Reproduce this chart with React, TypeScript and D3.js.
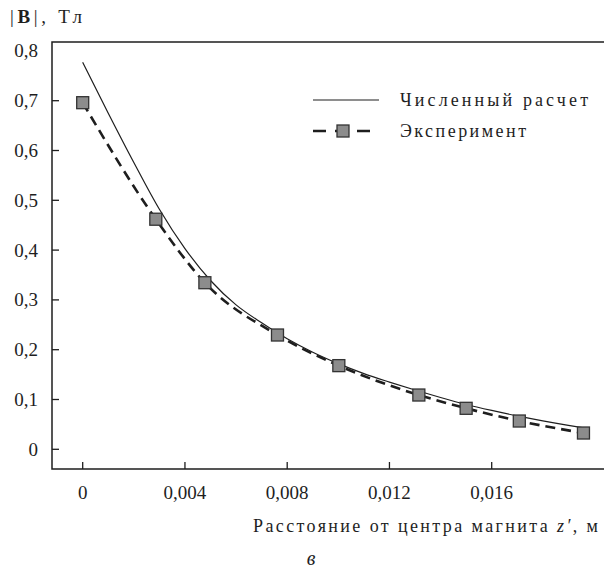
import React from "react";
import * as d3 from "d3";

const calcX = [0, 0.001, 0.002, 0.003, 0.004, 0.005, 0.006, 0.007, 0.008, 0.009, 0.01, 0.011, 0.012, 0.013, 0.014, 0.015, 0.016, 0.017, 0.018, 0.019, 0.0196];
const calcB = [0.777, 0.675, 0.576, 0.482, 0.403, 0.339, 0.29, 0.254, 0.222, 0.195, 0.172, 0.152, 0.135, 0.119, 0.104, 0.09, 0.078, 0.067, 0.057, 0.048, 0.043];

const expX = [0, 0.00286, 0.00478, 0.00762, 0.01002, 0.01315, 0.015, 0.01708, 0.01959];
const expB = [0.696, 0.462, 0.3345, 0.2295, 0.168, 0.109, 0.0823, 0.0568, 0.0327];

const yTicks = [0, 0.1, 0.2, 0.3, 0.4, 0.5, 0.6, 0.7];
const yLabels = [0, 0.1, 0.2, 0.3, 0.4, 0.5, 0.6, 0.7, 0.8];
const xTicks = [0, 0.004, 0.008, 0.012, 0.016];

const legendLabels = ["Численный расчет", "Эксперимент"];
const xTitle = "Расстояние от центра магнита ";
const panelLabel = "в";

const FONT = "'Liberation Serif', 'DejaVu Serif', serif";
const INK = "#1e1e1e";

export default function App() {
  const W = 604, H = 571;
  const left = 52, top = 42, right = 604, bottom = 469;
  const x = d3.scaleLinear().domain([0, 0.016]).range([82.7, 491.7]);
  const y = d3.scaleLinear().domain([0, 0.7]).range([449.3, 100.7]);

  const calcPts: [number, number][] = calcX.map((v, i) => [x(v), y(calcB[i])]);
  const expPts: [number, number][] = expX.map((v, i) => [x(v), y(expB[i])]);
  const solid = d3.line().curve(d3.curveMonotoneX)(calcPts) || "";
  const dashed = d3.line().curve(d3.curveMonotoneX)(expPts) || "";

  const fmt = (v: number) => (v === 0 ? "0" : String(+v.toFixed(3)).replace(".", ","));
  const ms = 12;

  return (
    <svg width={W} height={H} style={{ position: "absolute", left: 0, top: 0, background: "#fff" }} fontFamily={FONT}>
      <rect x={0} y={0} width={W} height={H} fill="#fff" />
      {/* frame */}
      <path d={`M${right},${top}H${left}V${bottom}H${right}`} fill="none" stroke={INK} strokeWidth={1.5} />
      {/* y ticks */}
      {yTicks.map((t) => (
        <line key={"yt" + t} x1={left} x2={left + 7} y1={y(t)} y2={y(t)} stroke={INK} strokeWidth={1.3} />
      ))}
      {yLabels.map((t) => (
        <text key={"yl" + t} x={38} y={y(t) + 6.5} textAnchor="end" fontSize={19} fill={INK}>
          {fmt(t)}
        </text>
      ))}
      {/* x ticks */}
      {xTicks.map((t) => (
        <g key={"xt" + t}>
          <line x1={x(t)} x2={x(t)} y1={bottom} y2={bottom - 7} stroke={INK} strokeWidth={1.3} />
          <text x={x(t)} y={499} textAnchor="middle" fontSize={19} fill={INK}>
            {fmt(t)}
          </text>
        </g>
      ))}
      {/* curves */}
      <path d={solid} fill="none" stroke={INK} strokeWidth={1.2} />
      <path d={dashed} fill="none" stroke={INK} strokeWidth={2.6} strokeDasharray="10,6" />
      {expPts.map((p, i) => (
        <rect key={"m" + i} x={p[0] - ms / 2} y={p[1] - ms / 2} width={ms} height={ms} fill="#8c8c8c" stroke="#333" strokeWidth={1.3} />
      ))}
      {/* legend */}
      <line x1={313} x2={379} y1={100} y2={100} stroke={INK} strokeWidth={1.2} />
      <text x={400} y={106} fontSize={18} fill={INK} textLength={188} lengthAdjust="spacing">
        {legendLabels[0]}
      </text>
      <line x1={313} x2={374} y1={131} y2={131} stroke={INK} strokeWidth={2.6} strokeDasharray="13,9" />
      <rect x={343 - ms / 2} y={131 - ms / 2} width={ms} height={ms} fill="#8c8c8c" stroke="#333" strokeWidth={1.3} />
      <text x={400} y={137} fontSize={18} fill={INK} textLength={126} lengthAdjust="spacing">
        {legendLabels[1]}
      </text>
      {/* y title */}
      <text x={10} y={23} fontSize={19} fill={INK} textLength={72} lengthAdjust="spacing">
        |<tspan fontWeight="bold">B</tspan>|,  Тл
      </text>
      {/* x title */}
      <text x={253} y={532} fontSize={18} fill={INK} textLength={345} lengthAdjust="spacing">
        {xTitle}
        <tspan fontStyle="italic">z′</tspan>, м
      </text>
      <text x={311} y={565} textAnchor="middle" fontSize={20} fontStyle="italic" fill={INK}>
        {panelLabel}
      </text>
    </svg>
  );
}
